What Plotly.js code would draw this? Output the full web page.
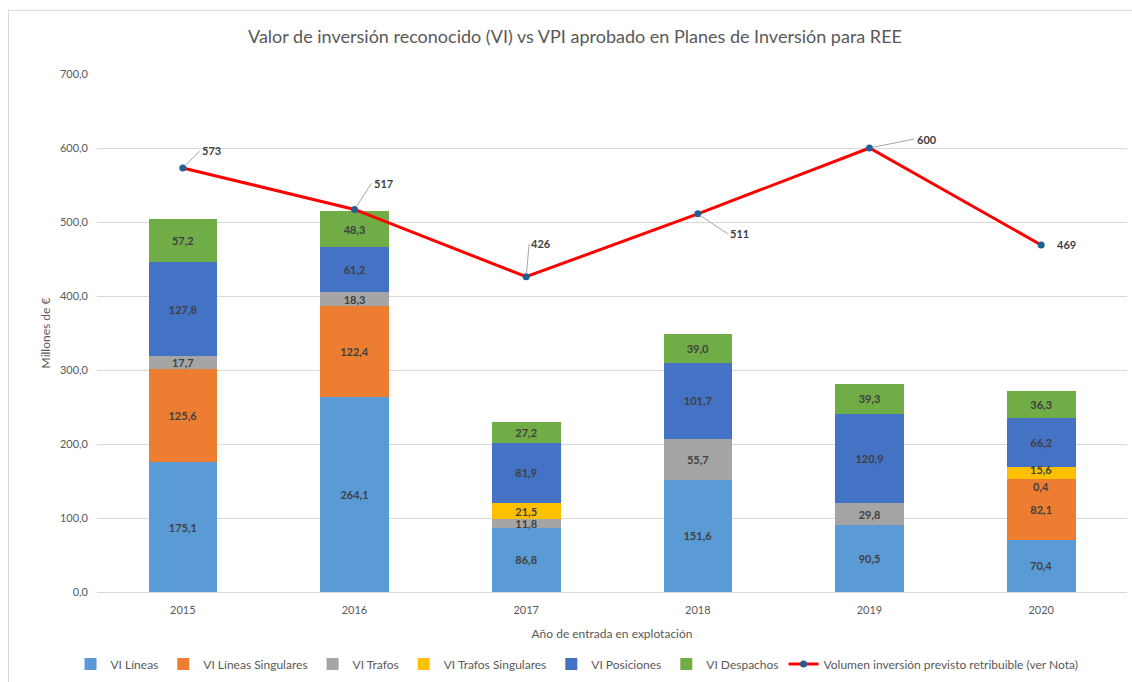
<!DOCTYPE html>
<html>
<head>
<meta charset="utf-8">
<script src="https://cdn.plot.ly/plotly-3.0.1.min.js"></script>
<style>
  html, body { margin: 0; padding: 0; background: #fff; }
  #wrap { position: relative; width: 1132px; height: 682px; overflow: hidden; }
  #chart { width: 1132px; height: 682px; }
  #frame { position: absolute; left: 8px; top: 10px; width: 1200px; height: 800px; border: 1px solid #d9d9d9; pointer-events: none; }
</style>
</head>
<body>
<div id="wrap">
  <div id="chart"></div>
  <div id="frame"></div>
</div>
<script>
const years = ['2015', '2016', '2017', '2018', '2019', '2020'];
const viLineas = [175.1, 264.1, 86.8, 151.6, 90.5, 70.4];
const viLineasSing = [125.6, 122.4, 0, 0, 0, 82.1];
const viTrafos = [17.7, 18.3, 11.8, 55.7, 29.8, 0.4];
const viTrafosSing = [0, 0, 21.5, 0, 0, 15.6];
const viPosiciones = [127.8, 61.2, 81.9, 101.7, 120.9, 66.2];
const viDespachos = [57.2, 48.3, 27.2, 39.0, 39.3, 36.3];
const volumenPrevisto = [573, 517, 426, 511, 600, 469];

const seriesNames = ['VI Líneas', 'VI Líneas Singulares', 'VI Trafos', 'VI Trafos Singulares', 'VI Posiciones', 'VI Despachos'];
const seriesValues = [viLineas, viLineasSing, viTrafos, viTrafosSing, viPosiciones, viDespachos];
const seriesColors = ['#5B9BD5', '#ED7D31', '#A5A5A5', '#FFC000', '#4472C4', '#70AD47'];

const fmt = v => v === 0 ? '' : v.toFixed(1).replace('.', ',');
const FONT = 'Lato, "Open Sans", sans-serif';
const LABEL_FONT = { family: FONT, size: 11, color: '#404040', weight: 'bold' };

// labels of tiny segments that are drawn as annotations, nudged apart (series index, category index, pixel shift)
const nudged = [[2, 5, -7], [3, 5, 4]];
const isNudged = (s, i) => nudged.some(n => n[0] === s && n[1] === i);

const traces = seriesValues.map((vals, s) => ({
  type: 'bar',
  name: seriesNames[s],
  x: years,
  y: vals,
  text: vals.map((v, i) => isNudged(s, i) ? '' : fmt(v)),
  textposition: 'inside',
  insidetextanchor: 'middle',
  textangle: 0,
  constraintext: 'none',
  textfont: LABEL_FONT,
  marker: { color: seriesColors[s] },
  hoverinfo: 'skip'
}));

traces.push({
  type: 'scatter',
  mode: 'lines+markers',
  name: 'Volumen inversión previsto retribuible (ver Nota)',
  x: years,
  y: volumenPrevisto,
  line: { color: '#FF0000', width: 3 },
  marker: { color: '#255E91', size: 7 },
  hoverinfo: 'skip'
});

const offsets = [[17, -17], [17, -26], [3, -33], [30, 20], [45, -9], [14, 0]];
const annotations = volumenPrevisto.map((v, i) => ({
  x: i,
  y: v,
  xref: 'x',
  yref: 'y',
  text: '<b>' + v + '</b>',
  showarrow: true,
  arrowhead: 0,
  arrowwidth: 1,
  arrowcolor: offsets[i][1] !== 0 ? '#A6A6A6' : 'rgba(0,0,0,0)',
  ax: offsets[i][0],
  ay: offsets[i][1],
  xanchor: 'left',
  yanchor: 'middle',
  standoff: 3,
  font: { family: FONT, size: 11, color: '#404040' }
}));

nudged.forEach(([s, i, shift]) => {
  let base = 0;
  for (let k = 0; k < s; k++) base += seriesValues[k][i];
  annotations.push({
    x: i,
    y: base + seriesValues[s][i] / 2,
    xref: 'x',
    yref: 'y',
    text: fmt(seriesValues[s][i]),
    showarrow: false,
    yshift: shift,
    font: LABEL_FONT
  });
});

const layout = {
  width: 1132,
  height: 682,
  paper_bgcolor: '#ffffff',
  plot_bgcolor: '#ffffff',
  barmode: 'stack',
  bargap: 0.6,
  margin: { l: 97, r: 5, t: 74, b: 90, autoexpand: false },
  font: { family: FONT, color: '#595959', size: 11 },
  title: {
    text: 'Valor de inversión reconocido (VI) vs VPI aprobado en Planes de Inversión para REE',
    font: { family: FONT, size: 18, color: '#595959' },
    x: 575 / 1132, xanchor: 'center', xref: 'container',
    y: 1 - 37 / 682, yref: 'container', yanchor: 'middle'
  },
  xaxis: {
    type: 'category',
    range: [-0.5, 5.5],
    autorange: false,
    tickfont: { family: FONT, size: 11, color: '#595959' },
    showline: true,
    linecolor: '#D9D9D9',
    ticks: '',
    ticklabelstandoff: 8,
    title: { text: 'Año de entrada en explotación', font: { family: FONT, size: 12, color: '#595959' }, standoff: 14 }
  },
  yaxis: {
    range: [0, 700],
    autorange: false,
    dtick: 100,
    tickformat: '.1f',
    tickfont: { family: FONT, size: 11, color: '#595959' },
    gridcolor: '#D9D9D9',
    gridwidth: 1,
    zeroline: false,
    ticks: '',
    ticklabelstandoff: 8,
    title: { text: 'Millones de €', font: { family: FONT, size: 12, color: '#595959' }, standoff: 6 }
  },
  separators: ',.',
  legend: {
    orientation: 'h',
    x: 577 / 1132, xanchor: 'center', xref: 'container',
    y: 1 - 664 / 682, yanchor: 'middle', yref: 'container',
    font: { family: FONT, size: 12, color: '#595959' },
    traceorder: 'normal'
  },
  annotations: annotations,
  showlegend: true
};

Plotly.newPlot('chart', traces, layout, { displayModeBar: false, staticPlot: true });
</script>
</body>
</html>
